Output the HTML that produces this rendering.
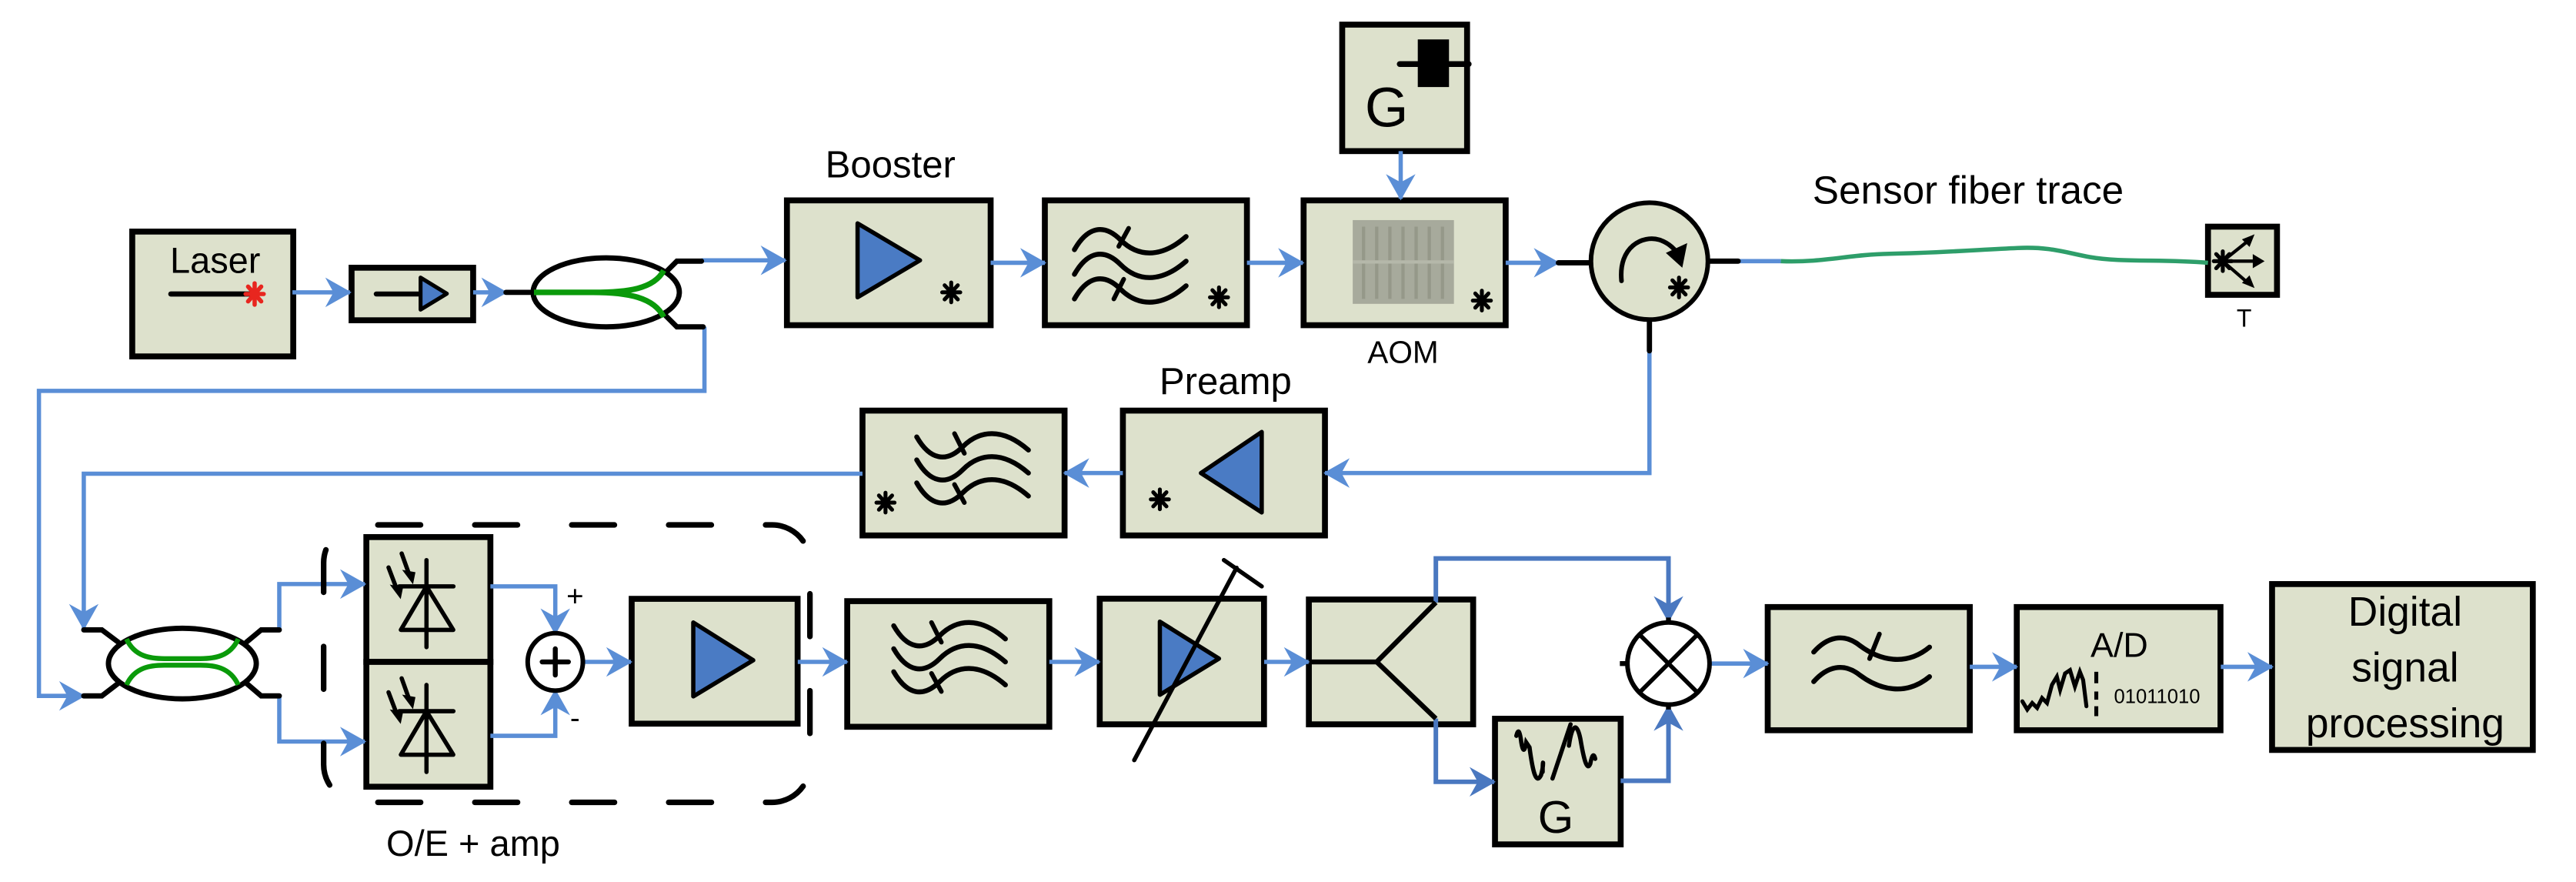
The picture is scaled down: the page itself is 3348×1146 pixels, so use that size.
<!DOCTYPE html>
<html><head><meta charset="utf-8"><style>
html,body{margin:0;padding:0;background:#fff;}
svg{display:block;}
text{font-family:"Liberation Sans",sans-serif;fill:#000;}
</style></head><body>
<svg width="3348" height="1146" viewBox="0 0 1568 537" preserveAspectRatio="none" xmlns="http://www.w3.org/2000/svg">
<defs>
<marker id="a" markerUnits="userSpaceOnUse" orient="auto" markerWidth="30" markerHeight="30" refX="0" refY="0" style="overflow:visible"><path d="M1,0 L-15,-9 L-10,0 L-15,9Z" fill="#5a8ed6"/></marker>
<marker id="ad" markerUnits="userSpaceOnUse" orient="auto" markerWidth="30" markerHeight="30" refX="0" refY="0" style="overflow:visible"><path d="M1,0 L-15,-9 L-10,0 L-15,9Z" fill="#4a78c0"/></marker>
<g id="ast" stroke="#000" stroke-width="2.4" stroke-linecap="round"><path d="M-5.5,0 L5.5,0 M0,-6 L0,6 M-4,-4.3 L4,4.3 M-4,4.3 L4,-4.3"/></g>
<g id="wave" fill="none" stroke="#000" stroke-width="3" stroke-linecap="round"><path d="M0,6 C8,-8 18,-10 28,0 S52,12 68,-2"/></g>
</defs>
<g stroke="#000" stroke-width="3.6" fill="#dde1cc">
<rect x="80.5" y="141" width="98" height="76"/>
<rect x="214" y="163" width="74" height="32"/>
<rect x="479" y="122" width="124" height="76"/>
<rect x="636" y="122" width="123" height="76"/>
<rect x="793.5" y="122" width="123" height="76"/>
<rect x="817" y="15" width="76" height="77"/>
<rect x="525" y="250" width="123" height="76"/>
<rect x="683.5" y="250" width="123" height="76"/>
<rect x="223" y="327" width="75.5" height="76"/>
<rect x="223" y="403" width="75.5" height="76"/>
<rect x="384.5" y="364.6" width="101" height="76"/>
<rect x="515.7" y="366" width="123" height="76.5"/>
<rect x="669.4" y="364.5" width="100" height="76.5"/>
<rect x="796.7" y="365" width="100" height="76"/>
<rect x="910" y="437.6" width="76.5" height="76.5"/>
<rect x="1076" y="369.6" width="123" height="75"/>
<rect x="1227.6" y="369.6" width="124" height="75"/>
<rect x="1383" y="355.6" width="158.7" height="101"/>
<rect x="1344" y="138" width="42" height="41.5"/>
</g>
<g fill="none" stroke="#5a8ed6" stroke-width="2.6">
<path d="M178,178 L213,178" marker-end="url(#a)"/>
<path d="M288,178 L308,178" marker-end="url(#a)"/>
<path d="M427,158.5 L478,158.5" marker-end="url(#a)"/>
<path d="M428.8,199 L428.8,238 L23.7,238 L23.7,423.7 L51,423.7" marker-end="url(#a)"/>
<path d="M603,160 L636,160" marker-end="url(#a)"/>
<path d="M759,160 L793,160" marker-end="url(#a)"/>
<path d="M916.5,160 L948.6,160" marker-end="url(#a)"/>
<path d="M852.6,92 L852.6,121" marker-end="url(#a)"/>
<path d="M1004,213.6 L1004,288 L806.5,288" marker-end="url(#a)"/>
<path d="M683.5,288 L648,288" marker-end="url(#a)"/>
<path d="M525,288.4 L51,288.4 L51,382.7" marker-end="url(#a)"/>
<path d="M170,383.5 L170,355.6 L222,355.6" marker-end="url(#a)"/>
<path d="M170,423.7 L170,451.5 L222,451.5" marker-end="url(#a)"/>
<path d="M298.5,357 L338,357 L338,385.5" marker-end="url(#a)"/>
<path d="M298.5,448 L338,448 L338,420.5" marker-end="url(#a)"/>
<path d="M355,403 L384,403" marker-end="url(#a)"/>
<path d="M485.6,403 L515.5,403" marker-end="url(#a)"/>
<path d="M638.7,403 L669,403" marker-end="url(#a)"/>
<path d="M769.5,403 L796.5,403" marker-end="url(#a)"/>
<path d="M1041,404 L1076,404" marker-end="url(#a)"/>
<path d="M1199,406 L1227.5,406" marker-end="url(#a)"/>
<path d="M1351.8,406 L1383,406" marker-end="url(#a)"/>
<path d="M1039.5,159 L1084,159"/>
</g>
<g fill="none" stroke="#4a78c0" stroke-width="2.8">
<path d="M874,366.8 L874,340 L1015.6,340 L1015.6,378" marker-end="url(#ad)"/>
<path d="M874,437.5 L874,476 L909.5,476" marker-end="url(#ad)"/>
<path d="M986.5,475.4 L1015.6,475.4 L1015.6,430" marker-end="url(#ad)"/>
</g>
<path d="M1084,159 C1110,160 1125,155 1150,154.5 C1180,154 1205,152 1228,151 C1248,150 1258,154 1272,156.5 C1292,160 1315,157.5 1344,160" fill="none" stroke="#2e9e6a" stroke-width="2.6"/>
<g stroke="#000" stroke-width="3.2" fill="none" stroke-linecap="round">
<path d="M948.6,160 L969,160"/>
<path d="M1004,194.5 L1004,213.6"/>
<path d="M1039.5,159 L1058,159"/>
<path d="M308,178 L325,178"/>
<path d="M405,166 L412,159 L427,159"/>
<path d="M405,192 L412,199 L428,199"/>
<path d="M51,383.5 L62,383.5 L72,391"/>
<path d="M51,423.7 L62,423.7 L72,416"/>
<path d="M150,391 L159,383.5 L170,383.5"/>
<path d="M150,416 L159,423.7 L170,423.7"/>
</g>
<text x="131" y="166" font-size="22" text-anchor="middle">Laser</text>
<path d="M104,179 L152,179" stroke="#000" stroke-width="3.2" stroke-linecap="round"/>
<g stroke="#e8261f" stroke-width="2.6" stroke-linecap="round"><path d="M149.5,179 L160.5,179 M155,172.5 L155,185.5 M151,174.5 L159,183.5 M151,183.5 L159,174.5"/></g>
<path d="M229,179 L258,179" stroke="#000" stroke-width="3" stroke-linecap="round"/>
<path d="M256,169 L256,188.5 L272,178.8Z" fill="#4a7bc4" stroke="#000" stroke-width="2.4" stroke-linejoin="round"/>
<ellipse cx="369" cy="178" rx="44.5" ry="21" fill="#fff" stroke="#000" stroke-width="3.2"/>
<path d="M325,178 L361,178 C382,178 398,176 404,164.7 M361,178 C382,178 398,181 404,193" fill="none" stroke="#0a9a0a" stroke-width="3.4"/>
<text x="542" y="108" font-size="23" text-anchor="middle">Booster</text>
<path d="M522,136 L522,181 L560,158.5Z" fill="#4a7bc4" stroke="#000" stroke-width="2.6" stroke-linejoin="round"/>
<use href="#ast" x="579" y="178"/>
<use href="#wave" x="654" y="146"/>
<use href="#wave" x="654" y="161"/>
<use href="#wave" x="654" y="176"/>
<path d="M687,139 L681,150 M684,170 L678,182" stroke="#000" stroke-width="2.8" stroke-linecap="round"/>
<use href="#ast" x="742" y="181"/>
<rect x="823.4" y="134" width="61.6" height="51" fill="#a7aa9c"/>
<g stroke="#959889" stroke-width="2"><path d="M830,138 L830,182 M838,138 L838,182 M846,138 L846,182 M854,138 L854,182 M862,138 L862,182 M870,138 L870,182 M878,138 L878,182"/></g>
<path d="M823.4,159.5 L885,159.5" stroke="#b5b8aa" stroke-width="2"/>
<use href="#ast" x="902" y="183"/>
<text x="854" y="221" font-size="19" text-anchor="middle">AOM</text>
<text x="844" y="77" font-size="34" text-anchor="middle">G</text>
<path d="M852,39 L894,39" stroke="#000" stroke-width="3.5" stroke-linecap="round"/>
<rect x="863" y="24" width="19" height="29" fill="#000"/>
<circle cx="1004" cy="159" r="35.6" fill="#dde1cc" stroke="#000" stroke-width="2.8"/>
<path d="M987,171 C985,150 1000,143 1010,146 C1016,148 1020,152 1022,156" fill="none" stroke="#000" stroke-width="2.8" stroke-linecap="round"/>
<path d="M1014,154 L1027,148 L1024,163Z" fill="#000"/>
<use href="#ast" x="1022" y="175"/>
<text x="1198" y="124" font-size="24" text-anchor="middle">Sensor fiber trace</text>
<use href="#ast" x="1353" y="159"/>
<g stroke="#000" stroke-width="2" fill="none"><path d="M1353,159 L1368,147 M1353,159 L1374,159 M1353,159 L1368,172"/></g>
<path d="M1371,144 L1366,146 L1369,149Z M1377,159 L1372,156 L1372,162Z M1371,174 L1366,172 L1369,169Z" fill="#000" stroke="#000" stroke-width="1.5"/>
<text x="1366" y="199" font-size="15" text-anchor="middle">T</text>
<text x="746" y="240" font-size="23" text-anchor="middle">Preamp</text>
<path d="M768,263 L768,312 L731,288Z" fill="#4a7bc4" stroke="#000" stroke-width="2.6" stroke-linejoin="round"/>
<use href="#ast" x="706" y="304"/>
<g transform="translate(558,286) scale(1,-1)"><use href="#wave" x="0" y="-14"/><use href="#wave" x="0" y="0"/><use href="#wave" x="0" y="14"/></g>
<path d="M581,264 L587,276 M581,295 L587,306" stroke="#000" stroke-width="2.8" stroke-linecap="round"/>
<use href="#ast" x="539" y="306"/>
<ellipse cx="111" cy="404" rx="45" ry="21.5" fill="#fff" stroke="#000" stroke-width="3.2"/>
<path d="M77,389 C82,400 92,401 100,401 L122,401 C130,401 140,400 145,389 M77,417 C82,406 92,405 100,405 L122,405 C130,405 140,406 145,417" fill="none" stroke="#0a9a0a" stroke-width="3"/>
<rect x="197" y="319.6" width="296" height="168.9" rx="23" fill="none" stroke="#000" stroke-width="3.4" stroke-dasharray="26 33" stroke-dashoffset="-10" stroke-linecap="round"/>
<text x="288" y="521" font-size="22" text-anchor="middle">O/E + amp</text>
<g id="diode" stroke="#000" stroke-width="2.6" fill="none" stroke-linecap="round">
<path d="M259.6,341 L259.6,394"/>
<path d="M243,357 L276,357"/>
<path d="M259.6,357 L244,383.5 L275.9,383.5Z" stroke-linejoin="round"/>
<path d="M244.5,337 L249.5,351 M236.5,345.5 L242,360"/>
</g>
<path d="M251,354 L246.5,348 L252,349Z M243.5,363 L239,357 L244.5,358Z" fill="#000" stroke="#000" stroke-width="1.5"/>
<use href="#diode" y="76"/>
<path d="M251,430 L246.5,424 L252,425Z M243.5,439 L239,433 L244.5,434Z" fill="#000" stroke="#000" stroke-width="1.5"/>
<ellipse cx="338" cy="403" rx="16.8" ry="17.5" fill="#fff" stroke="#000" stroke-width="2.8"/>
<path d="M330,403 L346,403 M338,395 L338,411" stroke="#000" stroke-width="3" stroke-linecap="round"/>
<text x="350" y="369" font-size="18" text-anchor="middle">+</text>
<text x="350" y="443" font-size="18" text-anchor="middle">-</text>
<path d="M422,379 L422,424 L458.5,402Z" fill="#4a7bc4" stroke="#000" stroke-width="2.6" stroke-linejoin="round"/>
<g transform="translate(544,401) scale(1,-1)"><use href="#wave" x="0" y="-14"/><use href="#wave" x="0" y="0"/><use href="#wave" x="0" y="14"/></g>
<path d="M567,379 L573,391 M567,410 L573,421" stroke="#000" stroke-width="2.8" stroke-linecap="round"/>
<path d="M706,378.5 L706,423 L742,401Z" fill="#4a7bc4" stroke="#000" stroke-width="2.6" stroke-linejoin="round"/>
<path d="M690.4,462.8 L752.7,345.7 M745,341 L768,357" stroke="#000" stroke-width="2.6" stroke-linecap="round"/>
<path d="M797,403 L838,403 L874,366.8 M838,403 L874,437.5" fill="none" stroke="#000" stroke-width="3"/>
<path d="M923,448 C924,444 925,444 926,452 C927,458 928,458 929,452 L931,455 C933,470 935,478 938,472 C940,465 939,460 939,470 M945,474 L956,441 M955,454 C957,440 960,440 962,450 C964,462 966,470 968,465 C969,460 970,458 971,462" fill="none" stroke="#000" stroke-width="2.6" stroke-linecap="round"/>
<text x="947" y="507" font-size="28" text-anchor="middle">G</text>
<circle cx="1015.6" cy="404" r="25" fill="#fff" stroke="#000" stroke-width="2.8"/>
<path d="M997.9,386.3 L1033.3,421.7 M997.9,421.7 L1033.3,386.3" stroke="#000" stroke-width="2.6"/>
<path d="M986,404 L990.6,404 M1015.6,376 L1015.6,379 M1015.6,429 L1015.6,432" stroke="#000" stroke-width="3"/>
<path d="M1104,397 C1112,388 1122,385 1132,393 C1144,402 1160,406 1174.5,394" fill="none" stroke="#000" stroke-width="3" stroke-linecap="round"/>
<path d="M1104,415 C1112,406 1122,403 1132,411 C1144,420 1160,424 1174.5,412" fill="none" stroke="#000" stroke-width="3" stroke-linecap="round"/>
<path d="M1144,386 L1138,401" stroke="#000" stroke-width="2.8" stroke-linecap="round"/>
<text x="1290" y="400" font-size="21" text-anchor="middle">A/D</text>
<path d="M1231,427 L1234,432 L1237,428 L1240,431 L1243,425 L1246,428 L1249,417 L1252,412 L1254,420 L1257,410 L1260,408 L1263,418 L1266,409 L1268,414 L1270,430" fill="none" stroke="#000" stroke-width="2.4" stroke-linecap="round"/>
<path d="M1276,409 L1276,416 M1276,421 L1276,426 M1276,430 L1276,436" stroke="#000" stroke-width="2.4"/>
<text x="1313" y="428" font-size="12" text-anchor="middle">01011010</text>
<text x="1464" y="381" font-size="25" text-anchor="middle">Digital</text>
<text x="1464" y="415" font-size="25" text-anchor="middle">signal</text>
<text x="1464" y="449" font-size="25" text-anchor="middle">processing</text>
</svg>
</body></html>
